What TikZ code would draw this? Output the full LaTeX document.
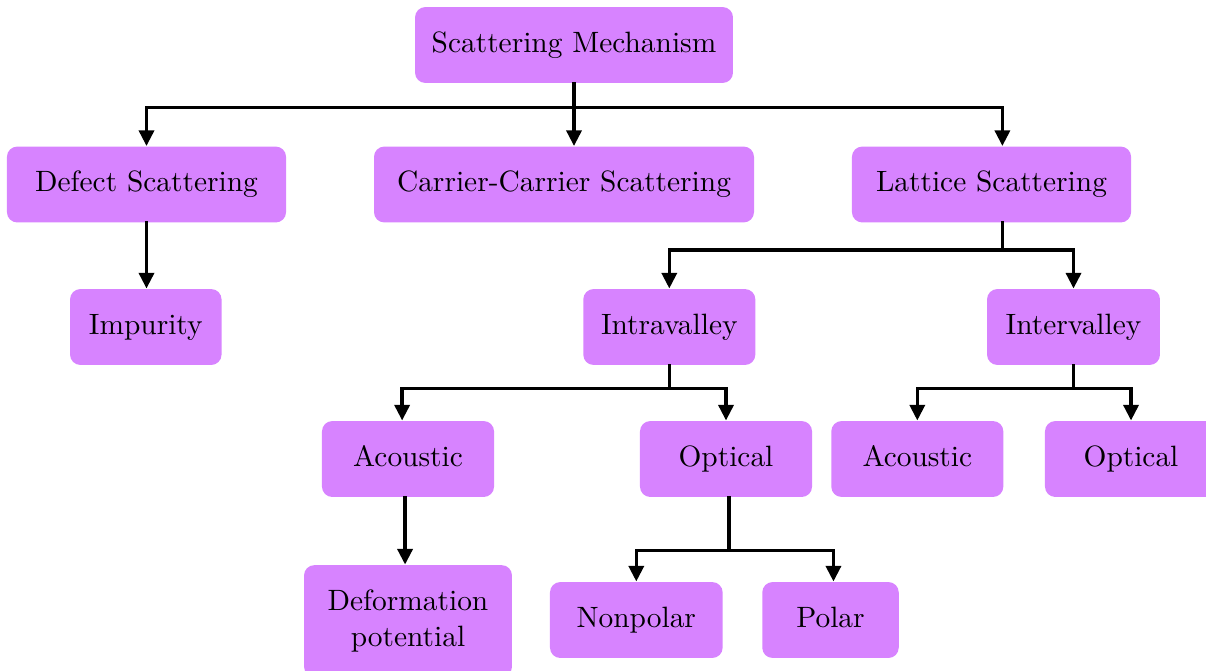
\documentclass[tikz,border=0pt]{standalone}
\usepackage{tikz}
\usetikzlibrary{arrows.meta}
\definecolor{boxpurple}{HTML}{D783FF}

\begin{document}
\begin{tikzpicture}[line cap=rect,line join=miter,x=0.34pt,y=0.34pt,
  >={Triangle[length=5.3pt,width=5.1pt]},
  box/.style={rectangle,rounded corners=3.5pt,fill=boxpurple,minimum height=25.8pt,inner sep=2pt,
    text height=7pt,text depth=2pt,align=center},
  conn/.style={->,line width=1.15pt}]
\useasboundingbox (0,0) rectangle (1206,-670);
% nodes
\node[box,minimum width=108.1pt] (mech) at (574,-45) {Scattering Mechanism};
\node[box,minimum width=94.9pt] (defect) at (146.5,-184.5) {Defect Scattering};
\node[box,minimum width=129.2pt] (carrier) at (564,-184.5) {Carrier-Carrier Scattering};
\node[box,minimum width=94.9pt] (lattice) at (991.5,-184.5) {Lattice Scattering};
\node[box,minimum width=51.5pt] (impurity) at (145.8,-327) {Impurity};
\node[box,minimum width=58.5pt] (intra) at (669.3,-327) {Intravalley};
\node[box,minimum width=58.8pt] (inter) at (1073.5,-327) {Intervalley};
\node[box,minimum width=58.5pt] (acoustA) at (408,-459) {Acoustic};
\node[box,minimum width=58.5pt] (opticA) at (726,-459) {Optical};
\node[box,minimum width=58.5pt] (acoustB) at (917.3,-459) {Acoustic};
\node[box,minimum width=58.5pt] (opticB) at (1131,-459) {Optical};
\node[box,text height=,text depth=,minimum width=70.7pt,minimum height=38pt] (deform) at (408,-621) {Deformation\\potential};
\node[box,minimum width=58.7pt] (nonpolar) at (636.3,-620) {Nonpolar};
\node[box,minimum width=46.4pt] (polar) at (830.5,-620) {Polar};
% connectors
\draw[conn] (mech.south) -- ++(0,-24) -| (defect.north);
\draw[conn] (mech.south) -- ++(0,-24) -| ([xshift=3.7pt]lattice.north);
\draw[conn] (mech.south) -- (mech.south |- carrier.north);
\draw[conn] (defect.south) -- (impurity.north -| defect.south);
\draw[conn] ([xshift=3.7pt]lattice.south) -- ++(0,-27) -| (intra.north);
\draw[conn] ([xshift=3.7pt]lattice.south) -- ++(0,-27) -| (inter.north);
\draw[conn] (intra.south) -- ++(0,-23) -| ([xshift=-2pt]acoustA.north);
\draw[conn] (intra.south) -- ++(0,-23) -| (opticA.north);
\draw[conn] (inter.south) -- ++(0,-23) -| (acoustB.north);
\draw[conn] (inter.south) -- ++(0,-23) -| (opticB.north);
\draw[conn] ([xshift=-1pt]acoustA.south) -- ([xshift=-1pt]deform.north);
\draw[conn] ([xshift=1pt]opticA.south) -- ++(0,-53) -| (nonpolar.north);
\draw[conn] ([xshift=1pt]opticA.south) -- ++(0,-53) -| ([xshift=1pt]polar.north);
\end{tikzpicture}
\end{document}
